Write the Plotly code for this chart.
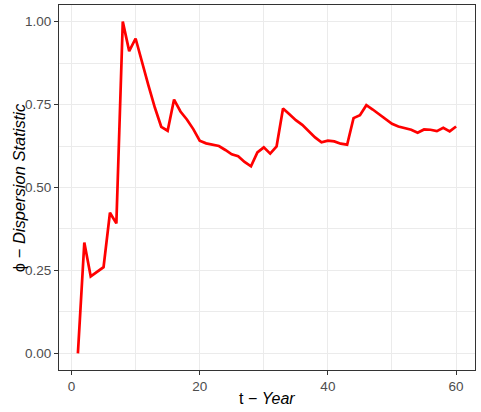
import plotly.graph_objects as go

# t - Year
anos = list(range(1, 61))

# phi - dispersion statistic
phi = [
    0.000, 0.334, 0.232, 0.246, 0.260, 0.424, 0.392, 1.000, 0.911, 0.949,
    0.875, 0.808, 0.741, 0.683, 0.671, 0.765, 0.729, 0.705, 0.676, 0.641,
    0.633, 0.629, 0.625, 0.613, 0.600, 0.594, 0.577, 0.564, 0.606, 0.621,
    0.602, 0.624, 0.738, 0.721, 0.703, 0.689, 0.669, 0.651, 0.636, 0.641,
    0.639, 0.632, 0.629, 0.709, 0.718, 0.748, 0.735, 0.720, 0.705, 0.692,
    0.684, 0.678, 0.674, 0.665, 0.675, 0.674, 0.670, 0.680, 0.669, 0.684,
]

x_ticks = [0, 20, 40, 60]
y_ticks = [0, 0.25, 0.5, 0.75, 1.0]
y_labels = ['0.00', '0.25', '0.50', '0.75', '1.00']

grade = '#EBEBEB'
borda = '#333333'
texto = '#4D4D4D'

fig = go.Figure(go.Scatter(
    x=anos,
    y=phi,
    mode='lines',
    line=dict(color='#FF0000', width=2.7),
    showlegend=False
))

eixo_base = dict(
    automargin=False,
    showline=True,
    mirror=True,
    linecolor=borda,
    linewidth=1,
    ticks='outside',
    ticklen=4,
    tickwidth=1,
    tickcolor=borda,
    tickfont=dict(size=13.5, color=texto),
    showgrid=True,
    gridcolor=grade,
    gridwidth=1.1,
    zeroline=False,
)

fig.update_layout(
    width=481,
    height=412,
    margin=dict(l=59, r=6, t=5, b=42),
    paper_bgcolor='white',
    plot_bgcolor='white',
    font=dict(family='Liberation Sans, Arial, sans-serif', color='black'),
    xaxis=dict(
        eixo_base,
        range=[-1.95, 62.95],
        tickvals=x_ticks,
        minor=dict(tickvals=[10, 30, 50], showgrid=True, gridcolor=grade,
                   gridwidth=0.6, ticks=''),
    ),
    yaxis=dict(
        eixo_base,
        range=[-0.05, 1.05],
        tickvals=y_ticks,
        ticktext=y_labels,
        minor=dict(tickvals=[0.125, 0.375, 0.625, 0.875], showgrid=True,
                   gridcolor=grade, gridwidth=0.6, ticks=''),
    ),
)

# titulos dos eixos como anotacoes para controlar a posicao
fig.add_annotation(
    text='t − <i>Year</i>', xref='paper', yref='paper',
    x=0.5, y=-0.077, xanchor='center', yanchor='middle',
    showarrow=False, font=dict(size=16, color='black')
)
fig.add_annotation(
    text='ϕ − <i>Dispersion Statistic</i>', xref='paper', yref='paper',
    x=-0.097, y=0.5, xanchor='center', yanchor='middle', textangle=-90,
    showarrow=False, font=dict(size=16.5, color='black')
)

# tira a margem padrao do body para a figura ocupar a janela toda
fig.write_html('out.html', config={'displayModeBar': False},
               post_script="document.body.style.margin='0';")
